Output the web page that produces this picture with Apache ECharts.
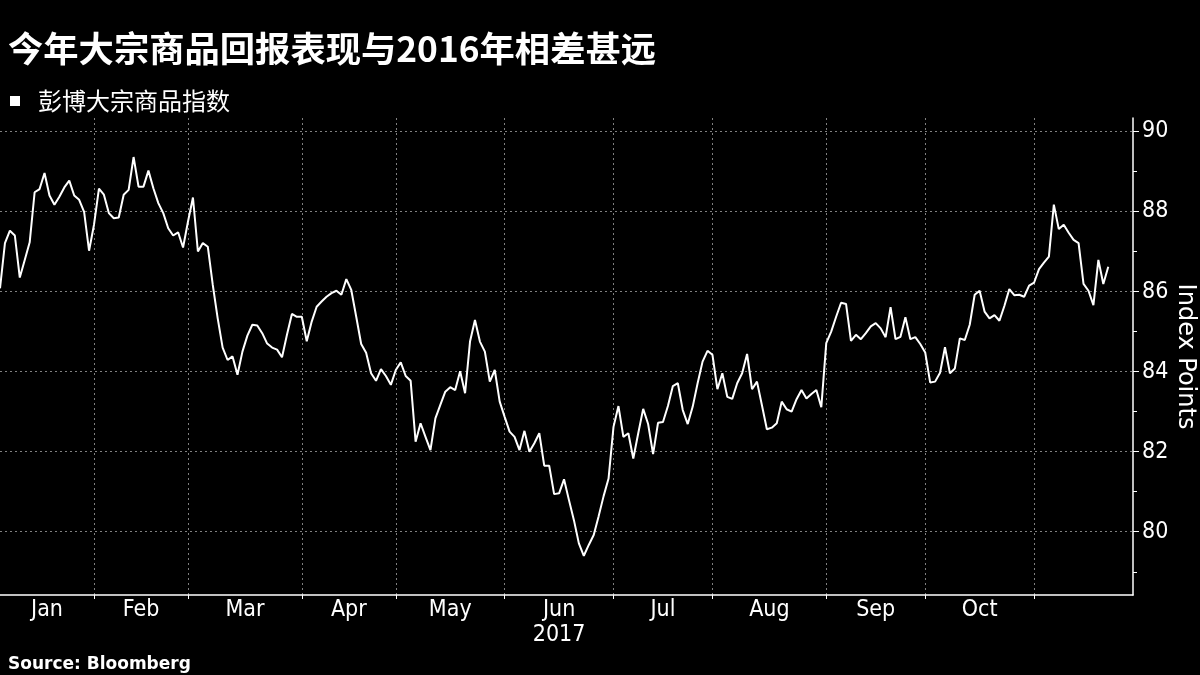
<!DOCTYPE html>
<html>
<head>
<meta charset="utf-8">
<style>
  html, body { margin: 0; padding: 0; background: #000; }
  #chart { width: 1200px; height: 675px; }
</style>
<script src="https://cdn.jsdelivr.net/npm/echarts@6/dist/echarts.min.js"></script>
</head>
<body>
<div id="chart"></div>
<script>
// ---- Data ----
const titleText = '今年大宗商品回报表现与2016年相差甚远';
const seriesName = '彭博大宗商品指数';
const sourceText = 'Source: Bloomberg';
const yAxisName = 'Index Points';
const yearLabel = '2017';

// trading days per month shown on the axis (Jan..Nov 2017)
const monthNames = ['Jan', 'Feb', 'Mar', 'Apr', 'May', 'Jun', 'Jul', 'Aug', 'Sep', 'Oct', 'Nov'];
const tradingDays = [19, 19, 23, 19, 22, 22, 20, 23, 20, 22, 21];
const labelledMonths = ['Jan', 'Feb', 'Mar', 'Apr', 'May', 'Jun', 'Jul', 'Aug', 'Sep', 'Oct'];
const yTickValues = [80, 82, 84, 86, 88, 90];

// Bloomberg Commodity Index daily closes, per month
const jan = [86.08, 87.21, 87.52, 87.40, 86.35, 86.79, 87.23, 88.48, 88.56, 88.96, 88.40, 88.17, 88.37, 88.60, 88.77, 88.40, 88.29, 87.99, 87.02];
const feb = [87.67, 88.57, 88.42, 87.96, 87.83, 87.85, 88.42, 88.54, 89.36, 88.62, 88.62, 89.02, 88.58, 88.21, 87.96, 87.58, 87.40, 87.48, 87.10];
const mar = [87.75, 88.35, 87.00, 87.21, 87.12, 86.17, 85.33, 84.60, 84.29, 84.38, 83.92, 84.50, 84.90, 85.17, 85.15, 84.96, 84.70, 84.60, 84.55, 84.36, 84.92, 85.44, 85.37];
const apr = [85.37, 84.76, 85.25, 85.62, 85.75, 85.87, 85.96, 86.02, 85.92, 86.31, 86.04, 85.37, 84.69, 84.47, 83.96, 83.77, 84.06, 83.89, 83.67];
const may = [84.04, 84.23, 83.89, 83.77, 82.25, 82.71, 82.37, 82.04, 82.83, 83.17, 83.50, 83.61, 83.54, 84.01, 83.46, 84.75, 85.29, 84.75, 84.50, 83.75, 84.04, 83.25];
const jun = [82.87, 82.50, 82.37, 82.04, 82.52, 82.00, 82.21, 82.46, 81.65, 81.65, 80.94, 80.96, 81.31, 80.79, 80.29, 79.71, 79.40, 79.67, 79.92, 80.39, 80.89, 81.33];
const jul = [82.62, 83.14, 82.37, 82.46, 81.83, 82.46, 83.07, 82.69, 81.94, 82.72, 82.74, 83.14, 83.64, 83.71, 83.04, 82.69, 83.12, 83.71, 84.25, 84.52];
const aug = [84.42, 83.56, 83.96, 83.37, 83.32, 83.71, 83.96, 84.44, 83.56, 83.75, 83.16, 82.56, 82.60, 82.71, 83.25, 83.06, 83.00, 83.31, 83.54, 83.33, 83.44, 83.54, 83.11];
const sep = [84.71, 85.00, 85.37, 85.72, 85.69, 84.77, 84.92, 84.81, 84.96, 85.13, 85.21, 85.08, 84.86, 85.61, 84.81, 84.87, 85.36, 84.81, 84.86, 84.69];
const oct = [84.48, 83.73, 83.75, 83.97, 84.61, 83.96, 84.08, 84.83, 84.79, 85.17, 85.92, 86.02, 85.50, 85.33, 85.41, 85.27, 85.64, 86.06, 85.91, 85.92, 85.87, 86.15];
const nov = [86.22, 86.56, 86.72, 86.87, 88.17, 87.56, 87.67, 87.47, 87.29, 87.21, 86.19, 86.02, 85.66, 86.79, 86.19, 86.62];

// ---- Build categories (one per trading day) ----
const values = [].concat(jan, feb, mar, apr, may, jun, jul, aug, sep, oct, nov);
const categories = [];
const monthStart = new Set();
const labelAt = {};
let idx = 0;
monthNames.forEach((m, mi) => {
  const n = tradingDays[mi];
  if (idx > 0) monthStart.add(idx);
  if (labelledMonths.includes(m)) labelAt[idx + Math.floor(n / 2)] = { name: m, half: n % 2 === 1 };
  for (let d = 1; d <= n; d++) categories.push(m + '-' + d);
  idx += n;
});

const FONT = '"Liberation Sans Narrow", "DejaVu Sans Condensed", "Liberation Sans", sans-serif';
const CJK = '"Noto Sans CJK SC", "Noto Sans", sans-serif';
const gridColor = '#808080';

const labelStyle = { color: '#fff', fontFamily: FONT, fontSize: 23, lineHeight: 25 };

const chart = echarts.init(document.getElementById('chart'), null, { renderer: 'canvas' });
chart.setOption({
  backgroundColor: '#000',
  animation: false,
  title: [
    {
      text: titleText, left: 3, top: 26,
      textStyle: { color: '#fff', fontFamily: CJK, fontWeight: 'bold', fontSize: 35.3 }
    },
    {
      text: sourceText, left: 3, top: 651,
      textStyle: { color: '#fff', fontFamily: '"DejaVu Sans", sans-serif', fontWeight: 'bold', fontSize: 17 }
    }
  ],
  legend: {
    left: 5, top: 84,
    icon: 'rect', itemWidth: 10, itemHeight: 10,
    data: [seriesName],
    textStyle: { color: '#fff', fontFamily: CJK, fontSize: 24, padding: [0, 0, 0, 13] }
  },
  grid: { left: 0, right: 67, top: 118, bottom: 80, containLabel: false, outerBoundsMode: 'none' },
  xAxis: {
    type: 'category',
    data: categories,
    boundaryGap: false,
    axisLine: { show: true, lineStyle: { color: '#fff', width: 1.5 } },
    axisTick: {
      show: true, length: 4, inside: false,
      interval: (i) => monthStart.has(i),
      lineStyle: { color: '#fff' }
    },
    splitLine: {
      show: true,
      interval: (i) => monthStart.has(i),
      lineStyle: { color: gridColor, type: [2, 3], width: 1 }
    },
    axisLabel: {
      show: true, margin: 3,
      interval: (i) => labelAt[i] !== undefined,
      formatter: (v, i) => {
        const l = labelAt[i];
        if (!l) return '';
        const key = l.half ? 'h' : 'n';
        let s = '{' + key + '|' + l.name + '}';
        if (l.name === 'Jun') s += '\n{' + key + '|' + yearLabel + '}';
        return s;
      },
      rich: {
        n: Object.assign({}, labelStyle),
        h: Object.assign({ padding: [0, 0, 0, 5] }, labelStyle)
      }
    }
  },
  yAxis: {
    type: 'value',
    position: 'right',
    min: 78.42,
    max: 90.335,
    name: yAxisName,
    nameLocation: 'middle',
    nameRotate: -90,
    nameGap: 40,
    nameMoveOverlap: false,
    nameTextStyle: { color: '#fff', fontFamily: '"DejaVu Sans", sans-serif', fontSize: 24 },
    axisLine: { show: true, lineStyle: { color: '#fff', width: 1.5 } },
    axisTick: {
      show: true, inside: false, length: 6,
      customValues: yTickValues,
      lineStyle: { color: '#fff' }
    },
    minorTick: { show: true, splitNumber: 2, length: 4, lineStyle: { color: '#fff' } },
    splitLine: {
      show: true,
      lineStyle: { color: gridColor, type: [2, 3], width: 1 }
    },
    axisLabel: {
      show: true, margin: 9,
      customValues: yTickValues,
      color: '#fff', fontFamily: FONT, fontSize: 23,
      formatter: (v) => (yTickValues.includes(Math.round(v * 1000) / 1000) ? String(v) : '')
    }
  },
  series: [{
    name: seriesName,
    type: 'line',
    data: values,
    showSymbol: false,
    symbol: 'none',
    lineStyle: { color: '#fff', width: 2 },
    itemStyle: { color: '#fff' }
  }]
});
</script>
</body>
</html>
